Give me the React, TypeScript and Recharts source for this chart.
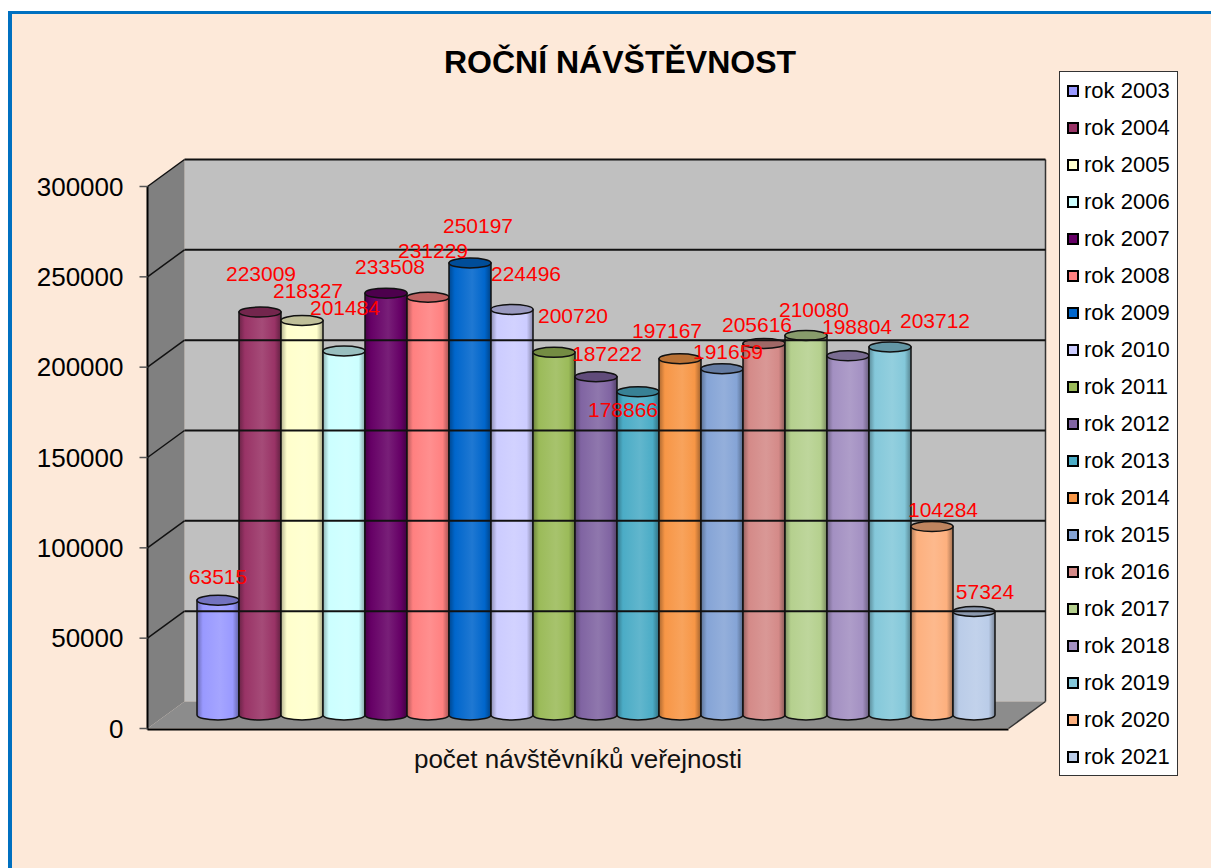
import { BarChart, Bar, XAxis, YAxis, Legend, LabelList, ReferenceArea, ReferenceLine } from 'recharts';

const CATEGORY = 'počet návštěvníků veřejnosti';

const YEARS = [
  'rok 2003', 'rok 2004', 'rok 2005', 'rok 2006', 'rok 2007', 'rok 2008', 'rok 2009',
  'rok 2010', 'rok 2011', 'rok 2012', 'rok 2013', 'rok 2014', 'rok 2015', 'rok 2016',
  'rok 2017', 'rok 2018', 'rok 2019', 'rok 2020', 'rok 2021',
];

const VISITORS = [
  63515, 223009, 218327, 201484, 233508, 231229, 250197, 224496, 200720, 187222,
  178866, 197167, 191659, 205616, 210080, 198804, 203712, 104284, 57324,
];

const Y_TICKS = [0, 50000, 100000, 150000, 200000, 250000, 300000];

const COLORS = [
  '#9999FF', '#993366', '#FFFFCC', '#CCFFFF', '#660066', '#FF8080', '#0066CC',
  '#CCCCFF', '#9BBB59', '#8064A2', '#4BACC6', '#F79646', '#85A4D6', '#D48A88',
  '#B5D08E', '#A390C2', '#84C8DA', '#FDB07E', '#BACCE8',
];

// excel moved some labels around to avoid overlaps: [dx from bar centre, dy]
const LABEL_NUDGE = [
  [0, -3], [1, -3], [6, 5], [1, -10], [4, 10], [5, -11], [8, 0], [14, 0], [19, -4], [11, 9],
  [-15, 49], [-13, 5], [6, 15], [-7, 15], [8, 8], [9, 4], [45, 7], [11, 7], [11, 0],
];

const FONT = '"Liberation Sans", Arial, sans-serif';
const DX = 18.5; // half depth of the 3d box
const DY = 13.5;

const chartData = [
  { name: CATEGORY, ...Object.fromEntries(YEARS.map((y, i) => [y, VISITORS[i]])) },
];

function mix(hex: string, target: string, t: number) {
  const a = parseInt(hex.slice(1), 16);
  const b = parseInt(target.slice(1), 16);
  const ch = (v: number, s: number) => (v >> s) & 255;
  const c = [16, 8, 0].map((s) => Math.round(ch(a, s) * (1 - t) + ch(b, s) * t));
  return `rgb(${c[0]},${c[1]},${c[2]})`;
}

function Cylinder(props: any) {
  const { x, y, width, height, color, idx } = props;
  if (width == null || height == null) return null;
  const rx = width / 2;
  const ry = 5;
  const id = `cyl-${idx}`;
  const body = `M${x},${y} L${x},${y + height} A${rx},${ry} 0 0 0 ${x + width},${y + height} L${x + width},${y} Z`;
  return (
    <g>
      <defs>
        <linearGradient id={id} x1="0" y1="0" x2="1" y2="0">
          <stop offset="0%" stopColor={mix(color, '#000000', 0.3)} />
          <stop offset="14%" stopColor={color} />
          <stop offset="55%" stopColor={mix(color, '#FFFFFF', 0.12)} />
          <stop offset="85%" stopColor={color} />
          <stop offset="100%" stopColor={mix(color, '#000000', 0.35)} />
        </linearGradient>
      </defs>
      <path d={body} fill={`url(#${id})`} stroke="#111" strokeWidth={1.5} />
      <ellipse cx={x + rx} cy={y} rx={rx} ry={ry} fill={mix(color, '#000000', 0.25)} stroke="#111" strokeWidth={1.5} />
    </g>
  );
}

function Walls(props: any) {
  const { x, y, width: w, height: h } = props;
  const floor = `${x - DX},${y + h + DY} ${x + DX},${y + h - DY} ${x + w + DX},${y + h - DY} ${x + w - DX},${y + h + DY}`;
  const side = `${x - DX},${y + DY} ${x + DX},${y - DY} ${x + DX},${y + h - DY} ${x - DX},${y + h + DY}`;
  return (
    <g>
      <rect x={x + DX} y={y - DY} width={w} height={h} fill="#C0C0C0" />
      <polygon points={side} fill="#808080" />
      <polygon points={floor} fill="#8C8C8C" />
      <line x1={x + w + DX} y1={y - DY} x2={x + w + DX} y2={y + h - DY} stroke="#333" strokeWidth={1.5} />
      <line x1={x + w - DX} y1={y + h + DY} x2={x + w + DX} y2={y + h - DY} stroke="#333" strokeWidth={1.5} />
      <line x1={x - DX} y1={y + DY} x2={x - DX} y2={y + h + DY + 1} stroke="#000" strokeWidth={2} />
      <line x1={x - DX} y1={y + h + DY + 1} x2={x + w - DX} y2={y + h + DY + 1} stroke="#000" strokeWidth={2} />
    </g>
  );
}

function GridLine(props: any) {
  const { x1, y1, x2, y2 } = props;
  if (x1 == null) return null;
  return (
    <g>
      <line x1={x1 + DX} y1={y1 - DY} x2={x2 + DX} y2={y2 - DY} stroke="#111" strokeWidth={2} />
      <line x1={x1 - DX} y1={y1 + DY} x2={x1 + DX} y2={y1 - DY} stroke="#111" strokeWidth={1.5} />
    </g>
  );
}

function YTick(props: any) {
  const { x, y, payload } = props;
  const fx = x - DX;
  const fy = y + DY;
  return (
    <g>
      <line x1={fx - 8} y1={fy} x2={fx} y2={fy} stroke="#555" strokeWidth={1.5} />
      <text x={fx - 24} y={fy} dy="0.35em" textAnchor="end" fontSize={26} fontFamily={FONT} fill="#000">
        {payload.value}
      </text>
    </g>
  );
}

function XTick(props: any) {
  const { x, y, payload } = props;
  return (
    <text x={x - DX} y={y + 53} textAnchor="middle" fontSize={26} fontFamily={FONT} fill="#111">
      {payload.value}
    </text>
  );
}

const renderLabel = (i: number) => (p: any) => {
  const vb = p.viewBox ?? p;
  const bx = p.x ?? vb.x;
  const by = p.y ?? vb.y;
  const bw = p.width ?? vb.width;
  const bh = p.height ?? vb.height;
  const cx = bx + bw / 2 + LABEL_NUDGE[i][0];
  const cy = by - 15 - bh * 0.05 + LABEL_NUDGE[i][1];
  return (
    <text x={cx} y={cy} dy="0.35em" textAnchor="middle" fontSize={21} fontFamily={FONT} fill="#FF0000">
      {p.value}
    </text>
  );
};

function LegendBox() {
  return (
    <div
      style={{
        width: 119,
        height: 705,
        background: '#FFFFFF',
        border: '1px solid #333',
        boxSizing: 'border-box',
        fontFamily: FONT,
      }}
    >
      {YEARS.map((year, i) => (
        <div key={year} style={{ height: 37.05, display: 'flex', alignItems: 'center', paddingLeft: 7 }}>
          <span
            style={{
              width: 8,
              height: 8,
              border: '2px solid #000',
              background: COLORS[i],
              display: 'inline-block',
              marginRight: 5,
            }}
          />
          <span style={{ fontSize: 22, color: '#000', lineHeight: '22px' }}>{year}</span>
        </div>
      ))}
    </div>
  );
}

export default function App() {
  return (
    <div style={{ position: 'fixed', left: 0, top: 0, width: 1211, height: 868, overflow: 'hidden', background: '#FFFFFF' }}>
      <div
        style={{
          position: 'absolute',
          left: 8,
          top: 11,
          right: -20,
          bottom: -20,
          borderLeft: '4px solid #0070C0',
          borderTop: '3px solid #0070C0',
          background: '#FDE9D9',
        }}
      />
      <div
        style={{
          position: 'absolute',
          left: 320,
          top: 46,
          width: 600,
          textAlign: 'center',
          fontFamily: FONT,
          fontWeight: 'bold',
          fontSize: 32,
          lineHeight: '32px',
          color: '#000',
        }}
      >
        ROČNÍ NÁVŠTĚVNOST
      </div>
      <div style={{ position: 'absolute', left: 0, top: 0 }}>
        <BarChart
          width={1211}
          height={868}
          data={chartData}
          margin={{ top: 173, right: 184, bottom: 123, left: 0 }}
          barCategoryGap={31}
          barGap={0}
        >
          <XAxis dataKey="name" axisLine={false} tickLine={false} tickSize={0} tickMargin={0} height={30} tick={<XTick />} />
          <YAxis
            type="number"
            domain={[0, 300000]}
            ticks={Y_TICKS}
            width={166}
            axisLine={false}
            tickLine={false}
            tickSize={0}
            tickMargin={0}
            tick={<YTick />}
          />
          <ReferenceArea y1={0} y2={300000} ifOverflow="visible" shape={(p: any) => <Walls {...p} />} />
          {Y_TICKS.filter((t) => t > 0).map((t) => (
            <ReferenceLine key={t} y={t} ifOverflow="visible" shape={(p: any) => <GridLine {...p} />} />
          ))}
          <Legend
            layout="vertical"
            align="center"
            verticalAlign="middle"
            content={() => <LegendBox />}
            wrapperStyle={{ left: 1059, top: 71, width: 119, height: 705 }}
          />
          {YEARS.map((year, i) => (
            <Bar
              key={year}
              dataKey={year}
              name={year}
              fill={COLORS[i]}
              isAnimationActive={false}
              shape={(p: any) => <Cylinder {...p} color={COLORS[i]} idx={i} />}
            >
              <LabelList dataKey={year} content={renderLabel(i)} />
            </Bar>
          ))}
        </BarChart>
      </div>
    </div>
  );
}
